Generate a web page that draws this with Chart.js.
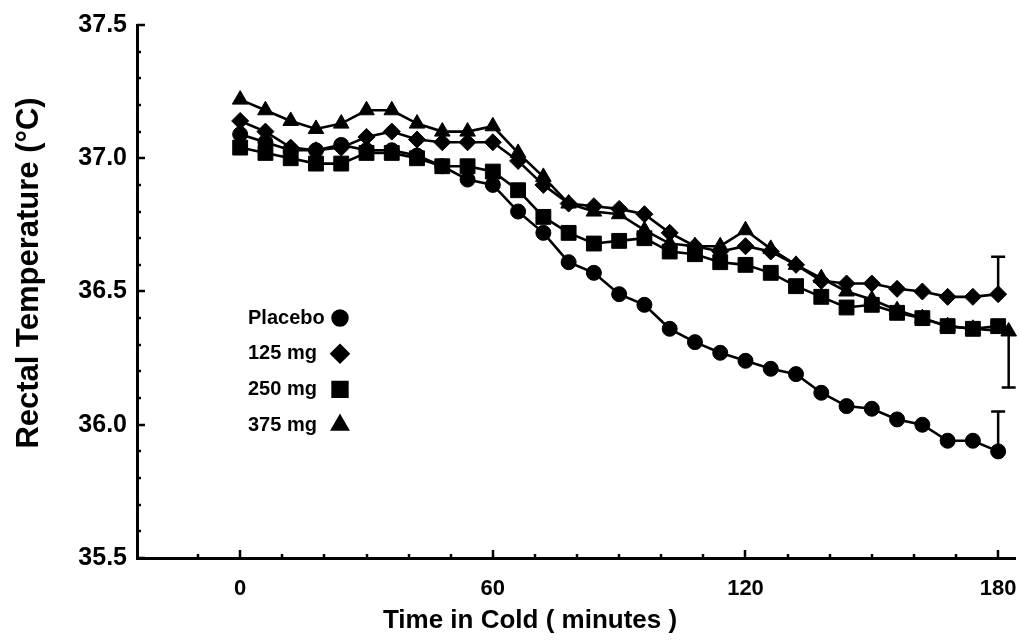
<!DOCTYPE html>
<html>
<head>
<meta charset="utf-8">
<script src="https://cdn.jsdelivr.net/npm/chart.js@4/dist/chart.umd.min.js"></script>
<style>
  html, body { margin: 0; padding: 0; background: #fff; }
  #wrap { width: 1019px; height: 642px; }
</style>
</head>
<body>
<div id="wrap"><canvas id="chart1" width="1019" height="642"></canvas></div>
<script>
// Rectal temperature during cold exposure
const times = [0, 6, 12, 18, 24, 30, 36, 42, 48, 54, 60, 66, 72, 78, 84, 90, 96,
    102, 108, 114, 120, 126, 132, 138, 144, 150, 156, 162, 168, 174, 180];
// 375 mg end point is drawn a little to the right in the original
const times375 = times.slice(0, 30).concat([182.5]);

const placebo = [37.09, 37.06, 37.03, 37.03, 37.05, 37.03, 37.03, 37.01, 36.97, 36.92, 36.90,
    36.80, 36.72, 36.61, 36.57, 36.49, 36.45, 36.36, 36.31, 36.27, 36.24,
    36.21, 36.19, 36.12, 36.07, 36.06, 36.02, 36.00, 35.94, 35.94, 35.90];
const mg125 = [37.14, 37.10, 37.04, 37.03, 37.04, 37.08, 37.10, 37.07, 37.06, 37.06, 37.06,
    36.99, 36.90, 36.83, 36.82, 36.81, 36.79, 36.72, 36.67, 36.65, 36.67,
    36.65, 36.60, 36.54, 36.53, 36.53, 36.51, 36.50, 36.48, 36.48, 36.49];
const mg250 = [37.04, 37.02, 37.00, 36.98, 36.98, 37.02, 37.02, 37.00, 36.97, 36.97, 36.95,
    36.88, 36.78, 36.72, 36.68, 36.69, 36.70, 36.65, 36.64, 36.61, 36.60,
    36.57, 36.52, 36.48, 36.44, 36.45, 36.42, 36.40, 36.37, 36.36, 36.37];
const mg375 = [37.22, 37.18, 37.14, 37.11, 37.13, 37.18, 37.18, 37.13, 37.10, 37.10, 37.12,
    37.02, 36.93, 36.83, 36.80, 36.79, 36.73, 36.68, 36.67, 36.67, 36.73,
    36.66, 36.60, 36.55, 36.50, 36.47, 36.43, 36.40, 36.37, 36.36, 36.35];

// error bar at the last point (signed: + up, - down, 0 none)
const endErrors = [0.15, 0.14, 0, -0.21];

const seriesNames = ['Placebo', '125 mg', '250 mg', '375 mg'];
const xTickLabels = [0, 60, 120, 180];
const yTickLabels = [35.5, 36.0, 36.5, 37.0, 37.5];

const toPoints = (xs, ys) => ys.map((v, i) => ({ x: xs[i], y: v }));

function makeSet(label, xs, ys, style, r) {
    return {
        label: label,
        data: toPoints(xs, ys),
        borderColor: '#000',
        backgroundColor: '#000',
        borderWidth: 2.6,
        pointStyle: style,
        pointRadius: r,
        pointBackgroundColor: '#000',
        pointBorderColor: '#000',
        pointBorderWidth: 1,
        tension: 0,
        clip: false
    };
}

// ticks inward, x labels, error bars, legend text + symbol, axis titles
const paperDecor = {
    id: 'paperDecor',
    afterDatasetsDraw(chart) {
        const { ctx, scales: { x, y } } = chart;
        ctx.save();
        ctx.strokeStyle = '#000';
        ctx.lineWidth = 2.5;

        // error bars
        chart.data.datasets.forEach((ds, i) => {
            const err = endErrors[i];
            if (!err) return;
            const last = ds.data[ds.data.length - 1];
            const px = x.getPixelForValue(last.x);
            const py0 = y.getPixelForValue(last.y);
            const py1 = y.getPixelForValue(last.y + err);
            ctx.beginPath();
            ctx.moveTo(px, py0);
            ctx.lineTo(px, py1);
            ctx.moveTo(px - 7, py1);
            ctx.lineTo(px + 7, py1);
            ctx.stroke();
        });
        ctx.restore();
    },
    afterDraw(chart) {
        const { ctx, scales: { x, y }, chartArea } = chart;
        ctx.save();
        ctx.strokeStyle = '#000';
        ctx.lineWidth = 2.5;

        // y ticks, every 0.1, longer on the labelled ones
        for (let v = 35.5; v <= 37.5001; v += 0.1) {
            const py = Math.round(y.getPixelForValue(v));
            const major = Math.abs(v * 2 - Math.round(v * 2)) < 0.001;
            ctx.beginPath();
            ctx.moveTo(chartArea.left, py);
            ctx.lineTo(chartArea.left + (major ? 8 : 4), py);
            ctx.stroke();
        }
        // x ticks, every 10 min
        for (let v = -10; v <= 180; v += 10) {
            const px = Math.round(x.getPixelForValue(v));
            const major = v % 60 === 0;
            ctx.beginPath();
            ctx.moveTo(px, chartArea.bottom);
            ctx.lineTo(px, chartArea.bottom - (major ? 8 : 4));
            ctx.stroke();
        }

        ctx.fillStyle = '#000';
        ctx.textBaseline = 'middle';

        // x tick labels (tegnes selv, så "180" ikke skubber kanten ind)
        ctx.textAlign = 'center';
        ctx.font = 'bold 22px "Liberation Sans", Arial, sans-serif';
        xTickLabels.forEach(v => {
            ctx.fillText(String(v), x.getPixelForValue(v), chartArea.bottom + 31);
        });

        // legend: text then symbol
        ctx.font = 'bold 20px "Liberation Sans", Arial, sans-serif';
        ctx.textAlign = 'left';
        chart.data.datasets.forEach((ds, i) => {
            const ly = 318 + i * 35.7;
            ctx.fillText(seriesNames[i], 248, ly);
            Chart.helpers.drawPoint(ctx, {
                pointStyle: ds.pointStyle,
                radius: ds.pointRadius,
                rotation: 0,
                borderWidth: 1
            }, 340, ly);
            ctx.fill();
        });

        // axis titles
        ctx.textAlign = 'center';
        ctx.font = 'bold 26px "Liberation Sans", Arial, sans-serif';
        ctx.fillText('Time in Cold ( minutes )', 530, 621);
        ctx.translate(29, 273);
        ctx.rotate(-Math.PI / 2);
        ctx.font = 'bold 31px "Liberation Sans", Arial, sans-serif';
        ctx.fillText('Rectal Temperature (\u00B0C)', 0, 0);
        ctx.restore();
    }
};

const ctx = document.querySelector('#chart1');
new Chart(ctx, {
    type: 'line',
    data: {
        datasets: [
            makeSet(seriesNames[0], times, placebo, 'circle', 7.5),
            makeSet(seriesNames[1], times, mg125, 'rectRot', 8.5),
            makeSet(seriesNames[2], times, mg250, 'rect', 10.5),
            makeSet(seriesNames[3], times375, mg375, 'triangle', 9)
        ]
    },
    options: {
        responsive: false,
        animation: false,
        layout: {
            autoPadding: false,
            padding: { top: 23, right: 4, left: 0, bottom: 0 }
        },
        scales: {
            x: {
                type: 'linear',
                min: -24.5,
                max: 184,
                grid: { display: false, drawTicks: false },
                border: { color: '#000', width: 3 },
                afterFit: (scale) => { scale.height = 84; },
                ticks: { display: false }
            },
            y: {
                min: 35.5,
                max: 37.5,
                grid: { display: false, drawTicks: false },
                border: { color: '#000', width: 3 },
                afterBuildTicks: (scale) => {
                    scale.ticks = yTickLabels.map(v => ({ value: v }));
                },
                afterFit: (scale) => { scale.width = 137; },
                ticks: {
                    color: '#000',
                    padding: 10,
                    font: { family: '"Liberation Sans", Arial, sans-serif', size: 25, weight: 'bold' },
                    callback: (value) => Number(value).toFixed(1)
                }
            }
        },
        plugins: {
            legend: { display: false },
            tooltip: { enabled: false }
        }
    },
    plugins: [paperDecor]
});
</script>
</body>
</html>
